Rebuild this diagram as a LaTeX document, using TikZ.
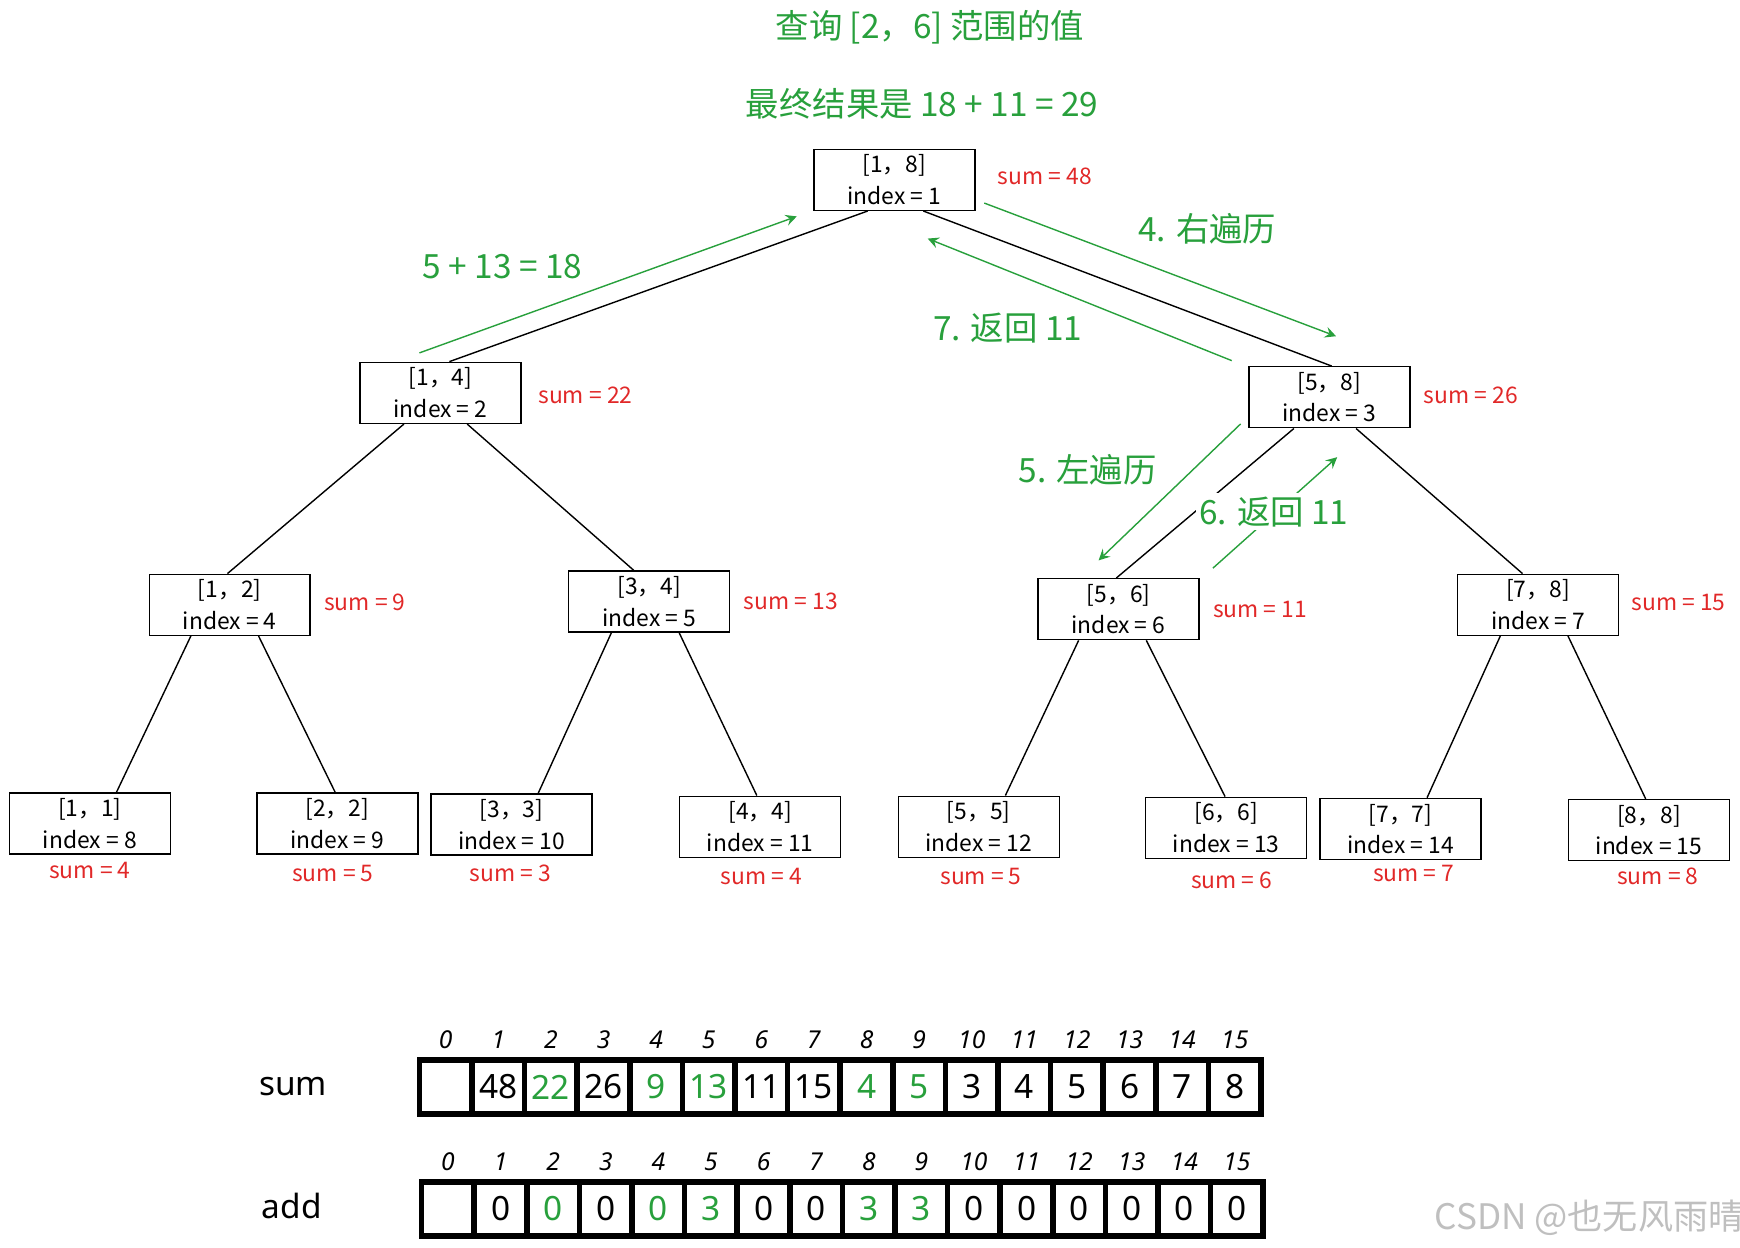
\documentclass[tikz,border=0pt]{standalone}
\usepackage{fontspec}
\setmainfont{Noto Sans}
\newfontfamily\cjk{Noto Sans CJK SC}
\usetikzlibrary{calc}
\definecolor{grn}{RGB}{40,160,60}
\definecolor{rd}{RGB}{225,40,40}
\tikzset{
  seg/.style={draw,minimum width=145*0.0111cm,minimum height=55*0.0111cm,align=center,font=\cjk\fontsize{6.5}{9}\selectfont,inner sep=1pt},
  sumlbl/.style={text=rd,font=\cjk\fontsize{6.5}{8}\selectfont},
  walklbl/.style={text=grn,font=\cjk\fontsize{9.5}{11}\selectfont},
  cell/.style={draw,line width=1.6pt,minimum width=47.4*0.0111cm,minimum height=49*0.0111cm,font=\fontsize{9.5}{11}\selectfont,inner sep=0pt},
  idx/.style={font=\fontsize{7}{9}\selectfont\itshape},
  walk/.style={grn,->,>=stealth}
}
\begin{document}
\begin{tikzpicture}[x=0.0111cm,y=-0.0111cm]
\useasboundingbox (0,0) rectangle (1568,1124);
% tree nodes
\node[seg] (n1) at (806,162) {[1，8]\\index = 1};
\node[seg] (n2) at (397,354) {[1，4]\\index = 2};
\node[seg] (n3) at (1198,358) {[5，8]\\index = 3};
\node[seg] (n4) at (207,545) {[1，2]\\index = 4};
\node[seg] (n5) at (585,542) {[3，4]\\index = 5};
\node[seg] (n6) at (1008,549) {[5，6]\\index = 6};
\node[seg] (n7) at (1386,545) {[7，8]\\index = 7};
\node[seg] (n8) at (81,742) {[1，1]\\index = 8};
\node[seg] (n9) at (304,742) {[2，2]\\index = 9};
\node[seg] (n10) at (461,743) {[3，3]\\index = 10};
\node[seg] (n11) at (685,745) {[4，4]\\index = 11};
\node[seg] (n12) at (882,745) {[5，5]\\index = 12};
\node[seg] (n13) at (1105,746) {[6，6]\\index = 13};
\node[seg] (n14) at (1262,747) {[7，7]\\index = 14};
\node[seg] (n15) at (1486,748) {[8，8]\\index = 15};
% sums
\node[sumlbl,right] at (888,159) {sum = 48};
\node[sumlbl,right] at (474,356) {sum = 22};
\node[sumlbl,right] at (1272,356) {sum = 26};
\node[sumlbl,right] at (281,543) {sum = 9};
\node[sumlbl,right] at (659,542) {sum = 13};
\node[sumlbl,right] at (1082,549) {sum = 11};
\node[sumlbl,right] at (1459,543) {sum = 15};
\node[sumlbl] at (81,784) {sum = 4};
\node[sumlbl] at (300,787) {sum = 5};
\node[sumlbl] at (460,787) {sum = 3};
\node[sumlbl] at (686,790) {sum = 4};
\node[sumlbl] at (884,790) {sum = 5};
\node[sumlbl] at (1110,793) {sum = 6};
\node[sumlbl] at (1274,787) {sum = 7};
\node[sumlbl] at (1494,790) {sum = 8};
% edges
\draw ($(n1.south)+(-24,0)$) -- ($(n2.north)+(8,0)$);
\draw ($(n1.south)+(26,0)$) -- ($(n3.north)+(2,0)$);
\draw ($(n2.south)+(-33,0)$) -- ($(n4.north)+(-2,0)$);
\draw ($(n2.south)+(24,0)$) -- ($(n5.north)+(-14,0)$);
\draw ($(n3.south)+(-32,0)$) -- ($(n6.north)+(-2,0)$);
\draw ($(n3.south)+(24,0)$) -- ($(n7.north)+(-14,0)$);
\draw ($(n4.south)+(-35,0)$) -- ($(n8.north)+(24,0)$);
\draw ($(n4.south)+(26,0)$) -- ($(n9.north)+(-2,0)$);
\draw ($(n5.south)+(-34,0)$) -- ($(n10.north)+(24,0)$);
\draw ($(n5.south)+(27,0)$) -- ($(n11.north)+(-3,0)$);
\draw ($(n6.south)+(-36,0)$) -- ($(n12.north)+(24,0)$);
\draw ($(n6.south)+(25,0)$) -- ($(n13.north)+(-1,0)$);
\draw ($(n7.south)+(-34,0)$) -- ($(n14.north)+(24,0)$);
\draw ($(n7.south)+(27,0)$) -- ($(n15.north)+(-3,0)$);
% walk
\coordinate (a1) at (378,318); \coordinate (a2) at (718,195);
\coordinate (b1) at (887,183); \coordinate (b2) at (1204,303);
\coordinate (c1) at (1110,325); \coordinate (c2) at (836,215);
\coordinate (d1) at (1118,382); \coordinate (d2) at (990,505);
\coordinate (e1) at (1093,512); \coordinate (e2) at (1205,412);
\draw[walk] (a1) -- (a2);
\draw[walk] (b1) -- (b2);
\draw[walk] (c1) -- (c2);
\draw[walk] (d1) -- (d2);
\draw[walk] (e1) -- (e2);
\node[walklbl] at (838,25) {查询 [2，6] 范围的值};
\node[walklbl] at (831,94) {最终结果是 18 + 11 = 29};
\node[walklbl] at (453,240) {5 + 13 = 18};
\node[walklbl] at (1088,206) {4. 右遍历};
\node[walklbl] at (908,296) {7. 返回 11};
\node[walklbl] at (980,423) {5. 左遍历};
\node[walklbl,fill=white,inner sep=1pt] at (1148,461) {6. 返回 11};
% arrays
\node[font=\fontsize{9.5}{11}\selectfont] at (264,979) {sum};
\node[font=\fontsize{9.5}{11}\selectfont] at (263,1087) {add};
\foreach \v [count=\i from 0] in {{},48,\textcolor{grn}{22},26,\textcolor{grn}{9},\textcolor{grn}{13},11,15,\textcolor{grn}{4},\textcolor{grn}{5},3,4,5,6,7,8} {
  \node[cell] (s\i) at (378+23.7+47.4*\i,979.5) {\v};
  \node[idx] at (378+23.7+47.4*\i,937) {\i};
}
\foreach \v [count=\i from 0] in {{},0,\textcolor{grn}{0},0,\textcolor{grn}{0},\textcolor{grn}{3},0,0,\textcolor{grn}{3},\textcolor{grn}{3},0,0,0,0,0,0} {
  \node[cell] (d\i) at (380+23.7+47.4*\i,1089.5) {\v};
  \node[idx] at (380+23.7+47.4*\i,1047) {\i};
}
\node[text=gray!50,font=\cjk\fontsize{10}{12}\selectfont] at (1432,1097) {CSDN @也无风雨晴};
\end{tikzpicture}
\end{document}
